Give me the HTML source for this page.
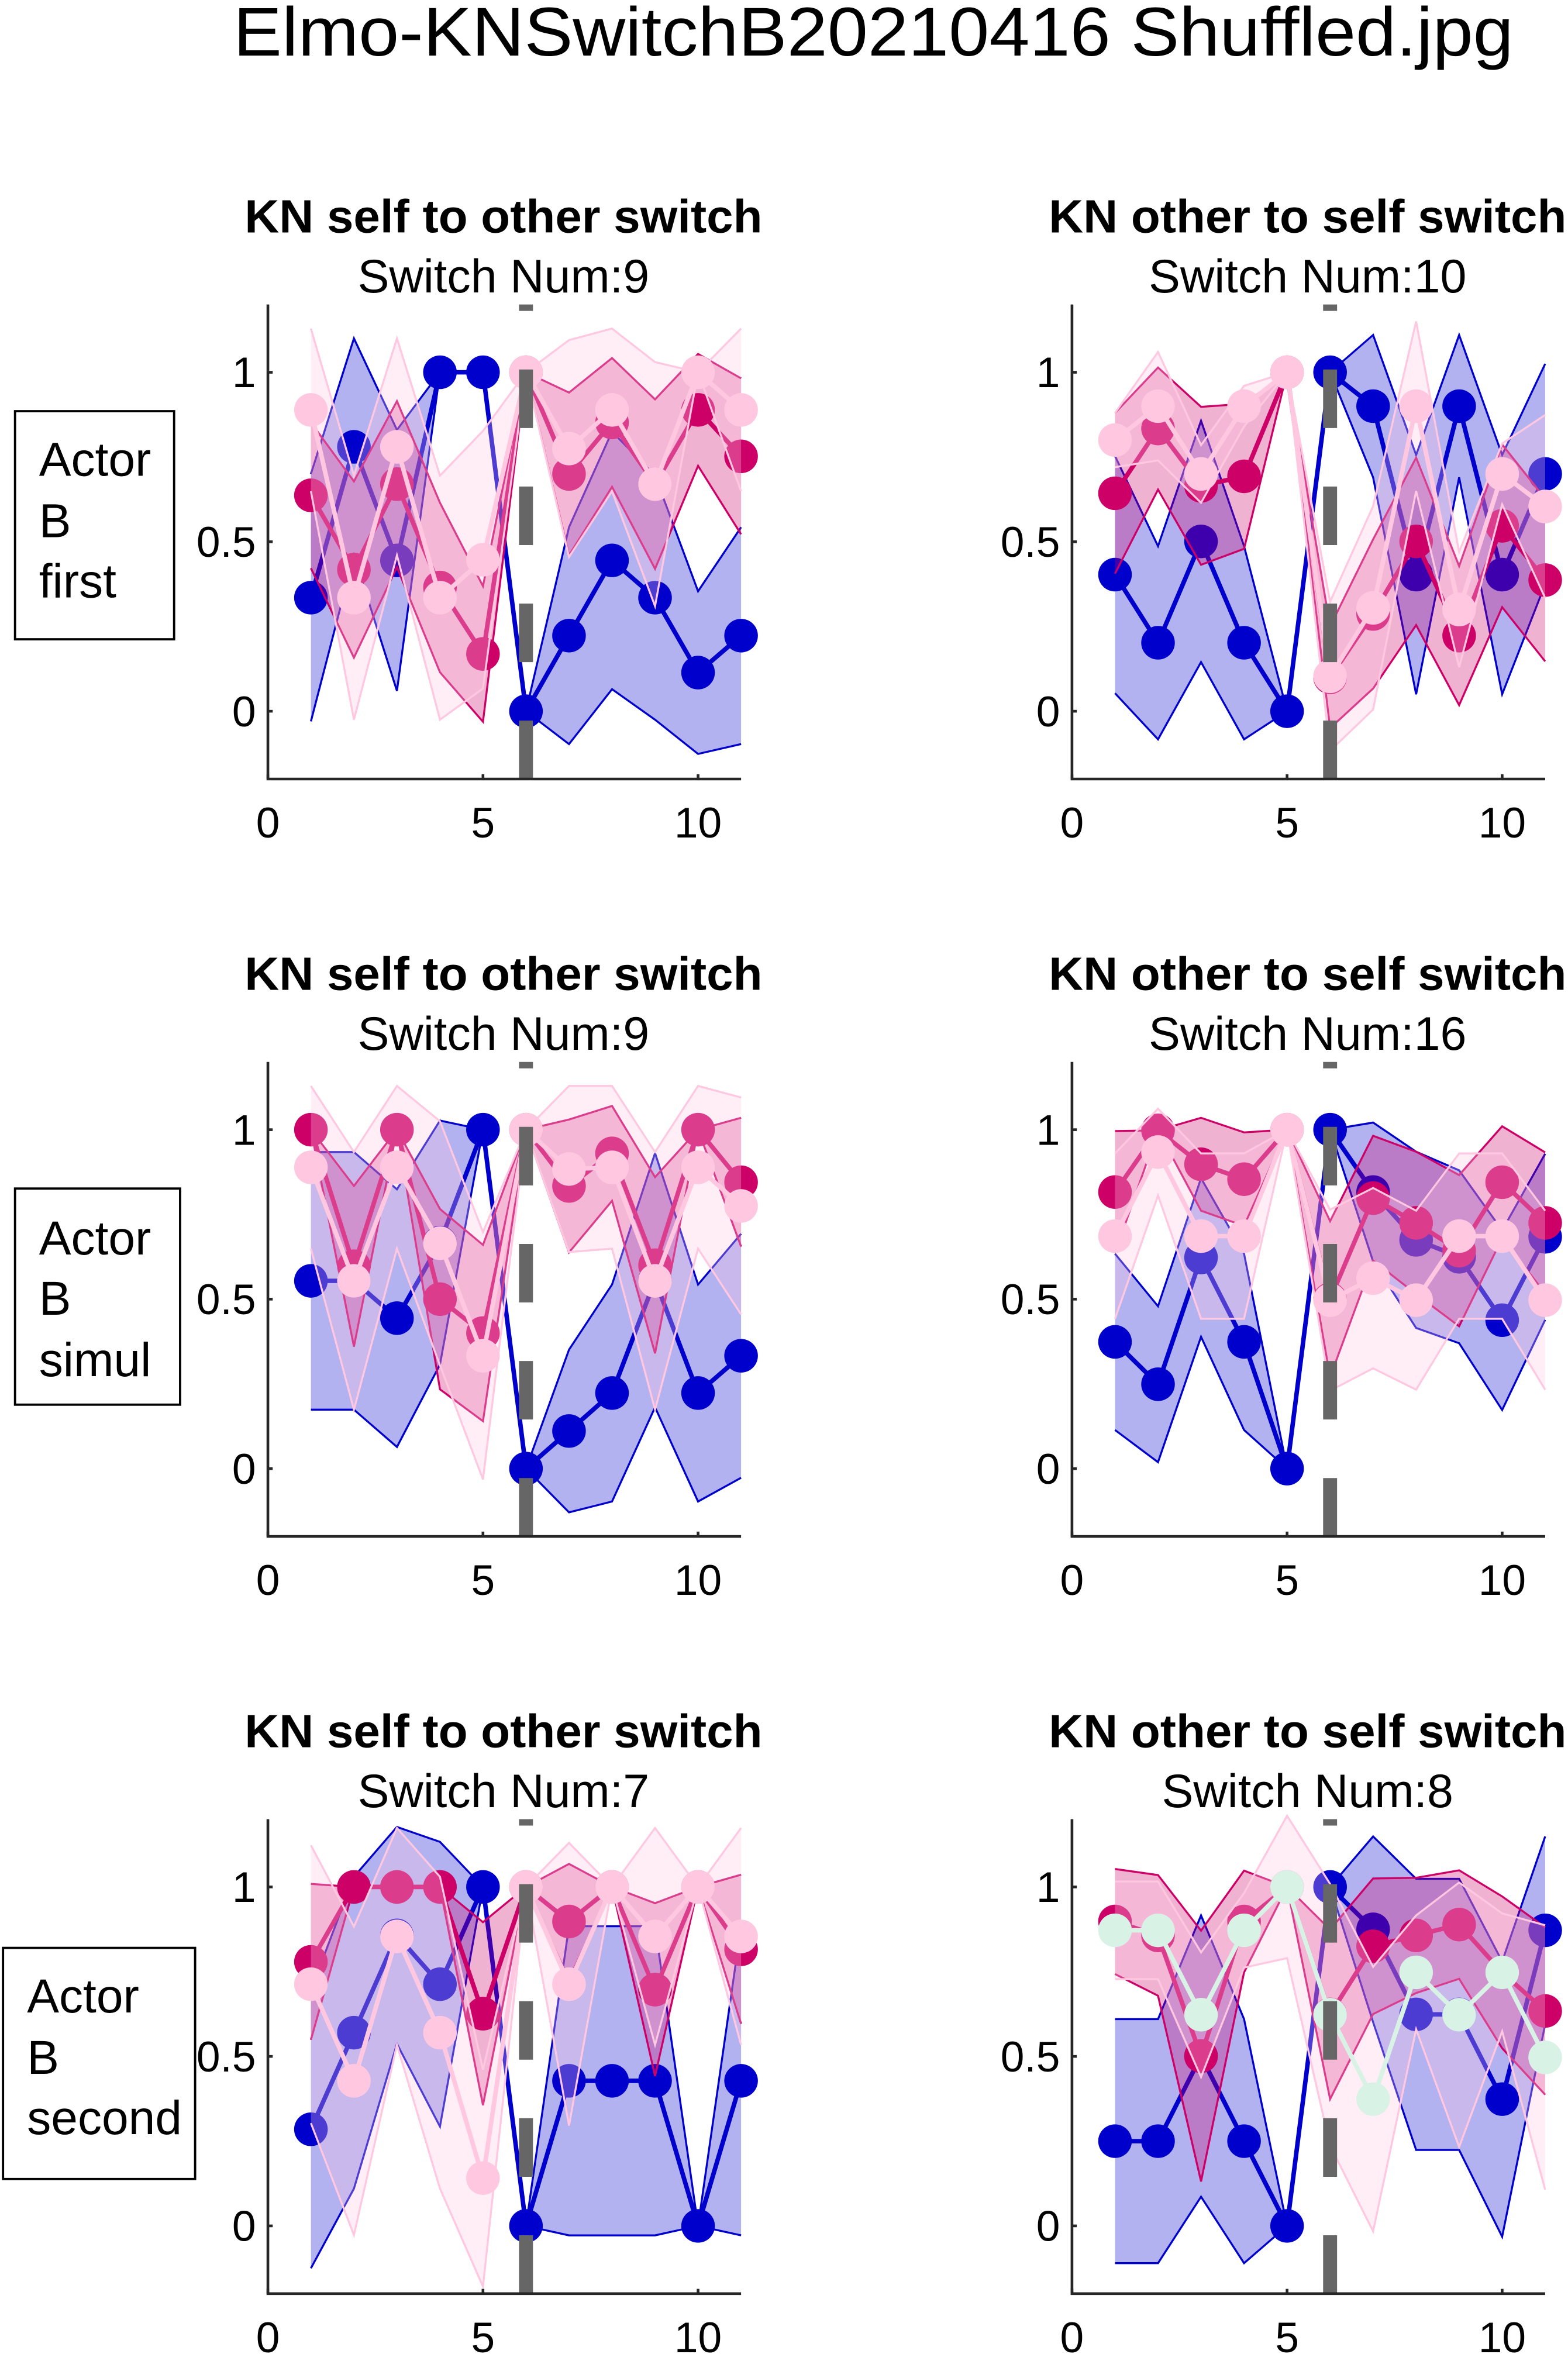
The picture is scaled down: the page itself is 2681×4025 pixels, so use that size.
<!DOCTYPE html>
<html><head><meta charset="utf-8"><style>
html,body{margin:0;padding:0;background:#fff}
svg{display:block}
text{font-family:"Liberation Sans",Arial,sans-serif;fill:#000}
</style></head><body>
<svg id="fig" xmlns="http://www.w3.org/2000/svg" width="2681" height="4025" viewBox="0 0 1044.8 1568.6">
<rect x="0" y="0" width="1044.8" height="1568.6" fill="#fff"/>
<text x="582" y="37" font-size="46" text-anchor="middle" textLength="853" lengthAdjust="spacingAndGlyphs">Elmo-KNSwitchB20210416 Shuffled.jpg</text>
<g>
<rect x="10" y="274" width="106" height="152" fill="#fff" stroke="#000" stroke-width="1.5"/>
<text x="26" y="317" font-size="32">Actor</text><text x="26" y="358" font-size="32">B</text><text x="26" y="398" font-size="32">first</text>
</g>
<g>
<rect x="10" y="792" width="110" height="144" fill="#fff" stroke="#000" stroke-width="1.5"/>
<text x="26" y="836" font-size="32">Actor</text><text x="26" y="876" font-size="32">B</text><text x="26" y="917" font-size="32">simul</text>
</g>
<g>
<rect x="2" y="1298" width="128" height="154" fill="#fff" stroke="#000" stroke-width="1.5"/>
<text x="18" y="1341" font-size="32">Actor</text><text x="18" y="1382" font-size="32">B</text><text x="18" y="1422" font-size="32">second</text>
</g>
<g id="panels"></g>
</svg>
<script>
const xs = [1,2,3,4,5,6,7,8,9,10,11];
const xTicks = [0,5,10];
const yTicks = [0,0.5,1];
const yTickLabels = ["0","0.5","1"];
const panelTitles = ["KN self to other switch","KN other to self switch","KN self to other switch","KN other to self switch","KN self to other switch","KN other to self switch"];
const switchNums = [9,10,9,16,7,8];

const p1Blue=[0.335,0.78,0.445,1,1,0,0.223,0.445,0.335,0.114,0.223];
const p1BlueErr=[0.365,0.32,0.385,0,0,0,0.32,0.38,0.36,0.24,0.32];
const p1Mag=[0.637,0.418,0.67,0.365,0.169,1,0.70,0.852,0.67,0.889,0.752];
const p1MagErr=[0.215,0.26,0.245,0.25,0.2,0,0.24,0.19,0.25,0.165,0.23];
const p1Pink=[0.889,0.335,0.78,0.335,0.447,1,0.775,0.889,0.67,1,0.889];
const p1PinkErr=[0.24,0.36,0.32,0.36,0.38,0,0.32,0.24,0.36,0,0.24];

const p2Blue=[0.403,0.202,0.501,0.202,0,1,0.9,0.403,0.9,0.403,0.70];
const p2BlueErr=[0.35,0.285,0.356,0.285,0,0,0.21,0.353,0.21,0.353,0.325];
const p2Mag=[0.643,0.834,0.665,0.693,1,0.10,0.287,0.501,0.223,0.547,0.387];
const p2MagErr=[0.237,0.18,0.233,0.214,0,0.15,0.22,0.247,0.205,0.24,0.24];
const p2Pink=[0.80,0.9,0.70,0.9,1,0.103,0.305,0.9,0.30,0.70,0.604];
const p2PinkErr=[0.08,0.16,0.085,0.06,0,0.22,0.30,0.25,0.17,0.09,0.27];

const p3Blue=[0.554,0.554,0.444,0.667,1,0,0.111,0.223,0.556,0.223,0.333];
const p3BlueErr=[0.38,0.38,0.38,0.36,0,0,0.24,0.32,0.375,0.32,0.36];
const p3Mag=[1,0.597,1,0.50,0.40,1,0.834,0.93,0.60,1,0.845];
const p3MagErr=[0,0.237,0,0.266,0.26,0,0.196,0.14,0.26,0,0.19];
const p3Pink=[0.889,0.554,0.889,0.665,0.333,1,0.884,0.889,0.554,0.889,0.775];
const p3PinkErr=[0.24,0.38,0.24,0.36,0.365,0,0.245,0.24,0.38,0.24,0.32];

const p4Blue=[0.374,0.249,0.623,0.374,0,1,0.816,0.675,0.625,0.438,0.684];
const p4BlueErr=[0.26,0.23,0.234,0.26,0,0,0.205,0.26,0.255,0.265,0.245];
const p4Mag=[0.816,0.998,0.898,0.854,1,0.5,0.798,0.725,0.643,0.845,0.725];
const p4MagErr=[0.18,0,0.137,0.138,0,0.23,0.184,0.21,0.223,0.165,0.208];
const p4Pink=[0.686,0.934,0.686,0.686,1,0.497,0.562,0.497,0.686,0.686,0.497];
const p4PinkErr=[0.244,0.128,0.244,0.244,0,0.267,0.266,0.264,0.244,0.244,0.264];

const p5Blue=[0.285,0.57,0.857,0.713,1,0,0.428,0.428,0.428,0,0.428];
const p5BlueErr=[0.41,0.46,0.32,0.42,0,0,0.456,0.456,0.456,0,0.456];
const p5Mag=[0.779,1,1,1,0.626,1,0.898,1,0.697,1,0.816];
const p5MagErr=[0.23,0,0,0,0.27,0,0.17,0,0.255,0,0.22];
const p5Pink=[0.713,0.428,0.854,0.57,0.141,1,0.713,1,0.854,1,0.854];
const p5PinkErr=[0.41,0.455,0.32,0.46,0.32,0,0.417,0,0.32,0,0.32];

const p6Blue=[0.25,0.25,0.501,0.25,0,1,0.875,0.624,0.624,0.374,0.872];
const p6BlueErr=[0.36,0.36,0.415,0.36,0,0,0.274,0.40,0.40,0.406,0.277];
const p6Mag=[0.898,0.857,0.501,0.898,1,0.624,0.825,0.857,0.889,0.748,0.634];
const p6MagErr=[0.155,0.178,0.37,0.15,0,0.25,0.2,0.17,0.16,0.224,0.247];
const p6Pink=[0.872,0.872,0.623,0.872,1,0.623,0.374,0.748,0.623,0.748,0.497];
const p6PinkErr=[0.144,0.144,0.184,0.11,0.21,0.386,0.39,0.168,0.39,0.174,0.39];

const panelSeries=[
 [[p1Blue,p1BlueErr],[p1Mag,p1MagErr],[p1Pink,p1PinkErr]],
 [[p2Blue,p2BlueErr],[p2Mag,p2MagErr],[p2Pink,p2PinkErr]],
 [[p3Blue,p3BlueErr],[p3Mag,p3MagErr],[p3Pink,p3PinkErr]],
 [[p4Blue,p4BlueErr],[p4Mag,p4MagErr],[p4Pink,p4PinkErr]],
 [[p5Blue,p5BlueErr],[p5Mag,p5MagErr],[p5Pink,p5PinkErr]],
 [[p6Blue,p6BlueErr],[p6Mag,p6MagErr],[p6Pink,p6PinkErr]]
];
const seriesNames=["blue","magenta","pink"];
const seriesColors=["#0000cc","#cc0066","#ffc8e0"];
const bandFills=["rgba(0,0,204,0.3)","rgba(204,0,102,0.3)","rgba(255,200,225,0.3)"];
const bandStrokes=["#0000cc","#cc0066","#ffc8e0"];

const NS="http://www.w3.org/2000/svg";
const root=document.getElementById('panels');
function mk(tag,attrs,parent){const e=document.createElementNS(NS,tag);for(const k in attrs)e.setAttribute(k,attrs[k]);parent.appendChild(e);return e;}

const colX=[178.5,714.3];
const rowTop=[202.9,707.6,1212.2];
const PW=315.3, PH=316.2;
const XMIN=0,XMAX=11,YMIN=-0.2,YMAX=1.2;

for(let p=0;p<6;p++){
  const col=p%2,row=Math.floor(p/2);
  const L=colX[col],T=rowTop[row];
  const sx=v=>L+(v-XMIN)/(XMAX-XMIN)*PW;
  const sy=v=>T+(YMAX-v)/(YMAX-YMIN)*PH;
  const g=mk('g',{},root);
  
  
  const cx=L+157;
  const t1=mk('text',{x:cx,y:T-48,'font-size':31,'font-weight':'bold','text-anchor':'middle',textLength:345,lengthAdjust:'spacingAndGlyphs'},g);
  t1.textContent=panelTitles[p];
  
  
  const t2=mk('text',{x:cx,y:T-8,'font-size':31.5,'text-anchor':'middle'},g);
  t2.textContent='Switch Num:'+switchNums[p];
  
  
  const clip=mk('clipPath',{id:'clip'+p},g);
  mk('rect',{x:L,y:T-30,width:PW+20,height:PH+30},clip);
  const plot=mk('g',{'clip-path':'url(#clip'+p+')'},g);
  panelSeries[p].forEach((s,si)=>{
    const m=s[0],e=s[1];
    const up=xs.map((x,i)=>sx(x)+','+sy(m[i]+e[i]));
    const lo=xs.map((x,i)=>sx(x)+','+sy(m[i]-e[i])).reverse();
    const band=mk('polygon',{points:up.concat(lo).join(' '),fill:bandFills[si],stroke:'none'},plot);
    
    
    const ue=mk('polyline',{points:up.join(' '),fill:'none',stroke:bandStrokes[si],'stroke-width':1.3},plot);
    
    
    const le=mk('polyline',{points:lo.join(' '),fill:'none',stroke:bandStrokes[si],'stroke-width':1.3},plot);
    
    
    let col2=seriesColors[si];
    if(p===5&&si===2) col2='#d8f2e6';
    const ln=mk('polyline',{points:xs.map((x,i)=>sx(x)+','+sy(m[i])).join(' '),fill:'none',stroke:col2,'stroke-width':3},plot);
    
    
    xs.forEach((x,i)=>{
      const c=mk('circle',{cx:sx(x),cy:sy(m[i]),r:11.2,fill:col2},plot);
      
      
    });
  });
  const dl=mk('line',{x1:sx(6),x2:sx(6),y1:T,y2:T+PH,stroke:'#666','stroke-width':9.3,'stroke-dasharray':'39 39','stroke-dashoffset':34.7},g);
  
  
  const ax=mk('path',{d:'M'+L+','+T+' V'+(T+PH)+' H'+(L+PW),fill:'none',stroke:'#262626','stroke-width':1.8},g);
  
  
  yTicks.forEach((v,i)=>{
    mk('line',{x1:L,x2:L+3.2,y1:sy(v),y2:sy(v),stroke:'#262626','stroke-width':1.8},g);
    const tl=mk('text',{x:L-8,y:sy(v)+10,'font-size':28.5,'text-anchor':'end'},g);
    tl.textContent=yTickLabels[i];
    
    
  });
  xTicks.forEach(v=>{
    mk('line',{x1:sx(v),x2:sx(v),y1:T+PH,y2:T+PH-3.2,stroke:'#262626','stroke-width':1.8},g);
    const tl=mk('text',{x:sx(v),y:T+PH+39,'font-size':28.5,'text-anchor':'middle'},g);
    tl.textContent=String(v);
    
    
  });
}
</script>
</body></html>
